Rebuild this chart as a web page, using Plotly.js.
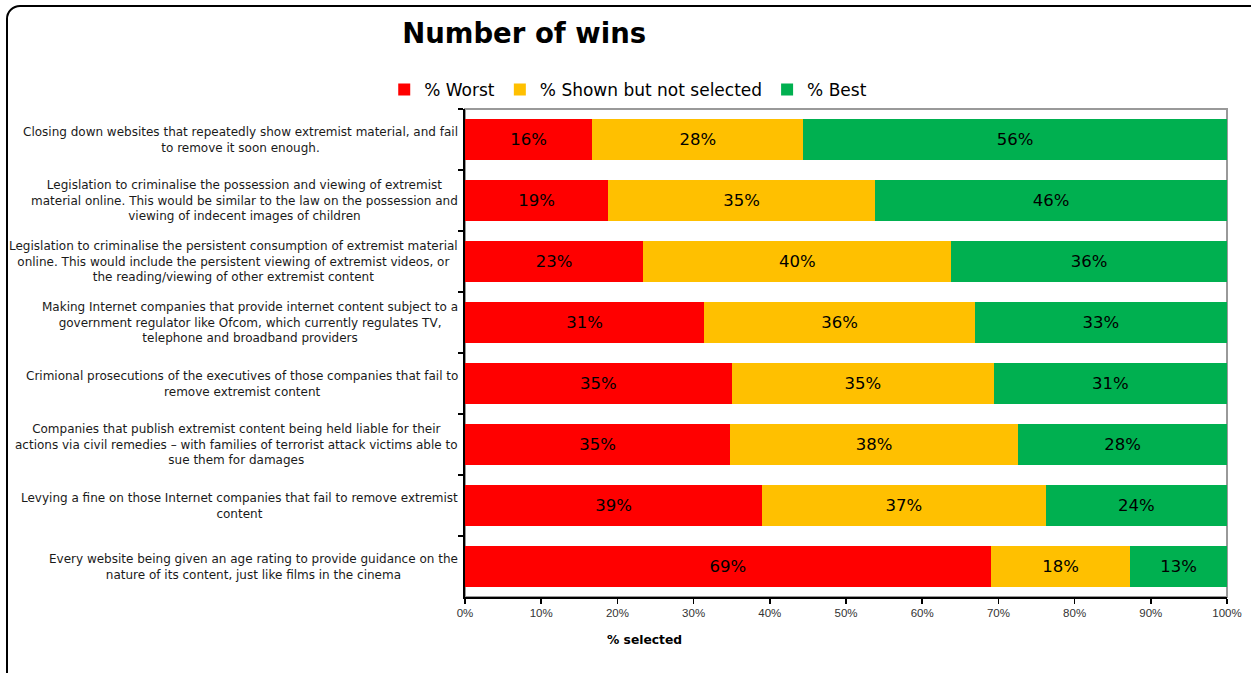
<!DOCTYPE html>
<html>
<head>
<meta charset="utf-8">
<script src="https://cdn.plot.ly/plotly-3.0.1.min.js"></script>
<style>
  html, body { margin: 0; padding: 0; width: 1251px; height: 673px; overflow: hidden; background: #fff; }
  #chart { position: absolute; left: 0; top: 0; width: 1251px; height: 673px; }
  #frame { position: absolute; left: 6px; top: 5px; width: 1262px; height: 690px; box-sizing: border-box;
           border: 2px solid #000; border-radius: 14px; pointer-events: none; }
</style>
</head>
<body>
<div id="chart"></div>
<div id="frame"></div>
<script>
const categories = [
  "Closing down websites that repeatedly show extremist material, and fail<br>to remove it soon enough.",
  "Legislation to criminalise the possession and viewing of extremist<br>material online. This would be similar to the law on the possession and<br>viewing of indecent images of children",
  "Legislation to criminalise the persistent consumption of extremist material<br>online. This would include the persistent viewing of extremist videos, or<br>the reading/viewing of other extremist content",
  "Making Internet companies that provide internet content subject to a<br>government regulator like Ofcom, which currently regulates TV,<br>telephone and broadband providers",
  "Crimional prosecutions of the executives of those companies that fail to<br>remove extremist content",
  "Companies that publish extremist content being held liable for their<br>actions via civil remedies – with families of terrorist attack victims able to<br>sue them for damages",
  "Levying a fine on those Internet companies that fail to remove extremist<br>content",
  "Every website being given an age rating to provide guidance on the<br>nature of its content, just like films in the cinema"
];
const seriesNames = ["% Worst", "% Shown but not selected", "% Best"];
const worst = [16.7, 18.8, 23.4, 31.4, 35.0, 34.8, 39.0, 69.0];
const shown = [27.7, 35.0, 40.4, 35.5, 34.4, 37.8, 37.2, 18.3];
const best  = [55.6, 46.2, 36.2, 33.1, 30.6, 27.4, 23.8, 12.7];
const worstLabels = [16, 19, 23, 31, 35, 35, 39, 69];
const shownLabels = [28, 35, 40, 36, 35, 38, 37, 18];
const bestLabels  = [56, 46, 36, 33, 31, 28, 24, 13];
const xTicks = [0, 10, 20, 30, 40, 50, 60, 70, 80, 90, 100];

const colors = ["#FF0000", "#FFC000", "#00B050"];
const vals = [worst, shown, best];
const labs = [worstLabels, shownLabels, bestLabels];
const FONT = "Liberation Sans, Arial, sans-serif";
const WIDE = "DejaVu Sans, Verdana, sans-serif";

const traces = vals.map((v, i) => ({
  type: "bar",
  orientation: "h",
  name: seriesNames[i],
  y: categories,
  x: v,
  marker: { color: colors[i], line: { width: 0 } },
  text: labs[i].map(n => n + "%"),
  textposition: "inside",
  insidetextanchor: "middle",
  constraintext: "none",
  textfont: { family: WIDE, size: 16.5, color: "#000" },
  hoverinfo: "skip"
}));

const annotations = categories.map(c => ({
  xref: "paper", yref: "y", x: -0.007, y: c,
  xanchor: "right", yanchor: "middle", align: "center",
  text: c, showarrow: false,
  font: { family: WIDE, size: 12, color: "#1a1a1a" }
}));
annotations.push({
  xref: "paper", yref: "paper", x: 0.236, y: -0.088,
  xanchor: "center", yanchor: "middle",
  text: "<b>% selected</b>", showarrow: false,
  font: { family: WIDE, size: 12.3, color: "#000" }
});

const layout = {
  width: 1251, height: 673,
  margin: { l: 465, r: 24, t: 109, b: 76 },
  paper_bgcolor: "rgba(0,0,0,0)", plot_bgcolor: "#fff",
  barmode: "stack",
  bargap: 0.34,
  font: { family: FONT },
  title: {
    text: "<b>Number of wins</b>",
    font: { family: WIDE, size: 27.5, color: "#000" },
    x: 0.419, xanchor: "center", y: 0.951, yanchor: "middle"
  },
  showlegend: true,
  legend: {
    orientation: "h", x: -0.106, xanchor: "left", y: 1.039, yanchor: "middle",
    font: { family: WIDE, size: 17, color: "#000" },
    traceorder: "normal", itemwidth: 30, bgcolor: "rgba(0,0,0,0)"
  },
  xaxis: {
    range: [0, 100], tickvals: xTicks, ticktext: xTicks.map(t => t + "%"),
    showgrid: false, zeroline: false,
    showline: true, linecolor: "#000", linewidth: 1.5,
    ticks: "outside", ticklen: 5, tickcolor: "#000", tickwidth: 1.5,
    tickfont: { family: FONT, size: 11.5, color: "#333" },
    fixedrange: true
  },
  yaxis: {
    type: "category", autorange: "reversed",
    showticklabels: false, showgrid: false, zeroline: false,
    showline: true, linecolor: "#000", linewidth: 2,
    ticks: "outside", tickson: "boundaries", ticklen: 5, tickcolor: "#000", tickwidth: 1.5,
    fixedrange: true
  },
  shapes: [{
    type: "rect", xref: "paper", yref: "paper", x0: 0, x1: 1, y0: 0, y1: 1,
    line: { color: "#999999", width: 2 }, layer: "below"
  }],
  annotations: annotations
};

Plotly.newPlot("chart", traces, layout, { displayModeBar: false, staticPlot: true });
</script>
</body>
</html>
